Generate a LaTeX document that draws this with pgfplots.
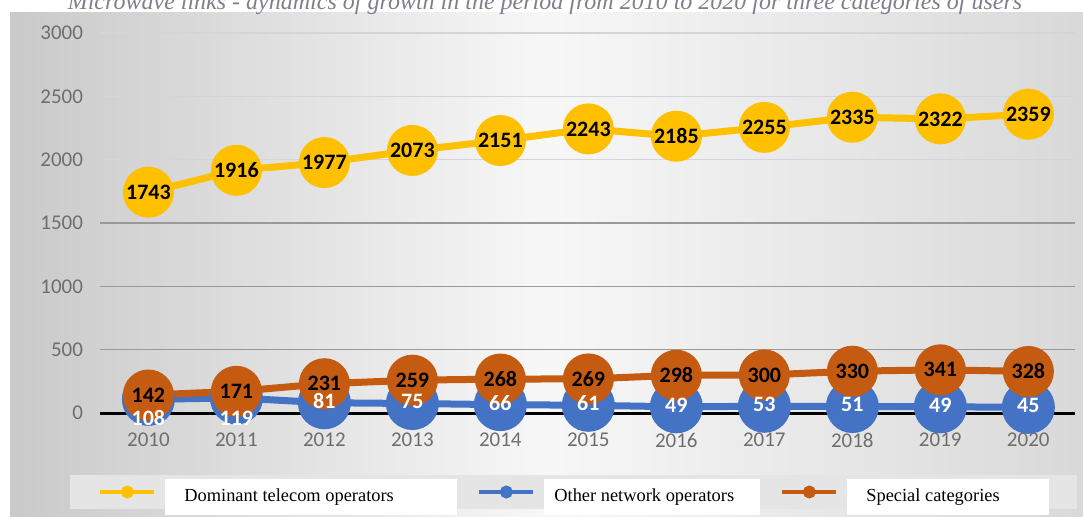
\documentclass[border=0pt]{standalone}
\usepackage{pgfplots}
\pgfplotsset{compat=1.18}
\usepackage{fontspec}
\setmainfont{Carlito}
\newfontfamily\tnr{Liberation Serif}
\definecolor{cyel}{HTML}{FFC000}
\definecolor{cblu}{HTML}{4472C4}
\definecolor{cora}{HTML}{C55A11}
\definecolor{tickgray}{HTML}{6E6E6E}
\definecolor{titlegray}{HTML}{7F7F8C}

% white legend box: width, indent, text
\newcommand{\lbox}[3]{{\setlength{\fboxsep}{0pt}\colorbox{white}{\parbox[c][18pt][c]{#1}{\hspace*{#2}\tnr\fontsize{9.2}{11}\selectfont #3}}}}

\pgfplotstableread{
x y
2010 1743
2011 1916
2012 1977
2013 2073
2014 2151
2015 2243
2016 2185
2017 2255
2018 2335
2019 2322
2020 2359
}\domdata
\pgfplotstableread{
x y dy
2010 108 -9.5
2011 119 -10
2012 81 1
2013 75 1
2014 66 1
2015 61 1
2016 49 1
2017 53 1
2018 51 1
2019 49 1
2020 45 1
}\otherdata
\pgfplotstableread{
x y
2010 142
2011 171
2012 231
2013 259
2014 268
2015 269
2016 298
2017 300
2018 330
2019 341
2020 328
}\specdata

\begin{document}
\begin{tikzpicture}
\useasboundingbox (0,0) rectangle (541.5pt,258pt);
\shade[left color=gray!42, right color=gray!30, middle color=gray!6] (5pt,0) rectangle (541.5pt,252pt);
\node[anchor=base, text=titlegray, inner sep=0pt] at (272.5pt,253.5pt)
  {\tnr\itshape\fontsize{12}{14}\selectfont Microwave links - dynamics of growth in the period from 2010 to 2020 for three categories of users};
\begin{axis}[
  at={(50pt,51.5pt)}, anchor=south west,
  scale only axis, width=487.5pt, height=190pt,
  xmin=2009.45, xmax=2020.53, ymin=0, ymax=3000,
  clip=false,
  axis line style={draw=none}, major tick length=0pt,
  xtick={2010,...,2020},
  ytick={0,2000,2500,3000},
  extra y ticks={500,1000,1500},
  extra y tick style={grid=major, major grid style={draw=gray!80, line width=0.7pt}},
  ymajorgrids,
  major grid style={draw=blue!12!gray!30, line width=0.8pt},
  tick label style={font=\fontsize{10.5}{12}\selectfont, text=tickgray},
  /pgf/number format/1000 sep={},
  /pgf/number format/assume math mode=true,
  yticklabel style={xshift=-5pt},
  xticklabel style={yshift=-6.5pt},
  legend columns=3,
  legend cell align=left,
  legend style={at={(-0.0308,-0.2079)}, anchor=west, fill=gray!20, draw=none,
    inner xsep=14pt, inner ysep=2pt, nodes={inner sep=0pt},
    /tikz/every odd column/.append style={column sep=4.5pt},
    /tikz/every even column/.append style={column sep=10pt}},
  legend image code/.code={\draw[mark repeat=2,mark phase=2,#1,mark size=2.2pt,line width=2pt]
    plot coordinates {(0pt,0pt) (13.5pt,0pt) (27pt,0pt)};},
  every node near coord/.append style={anchor=center, font=\bfseries\fontsize{11}{13}\selectfont},
]
\draw[black, line width=1.5pt] (axis cs:2009.45,0) -- (axis cs:2020.53,0);

\addplot[cyel, line width=3.5pt, mark=*, mark size=11pt, mark options={draw=none, fill=cyel}] table[x=x,y=y] {\domdata};
\addlegendentry{\lbox{146pt}{9.5pt}{Dominant telecom operators}}
\addplot[cblu, line width=3.5pt, mark=*, mark size=11.5pt, mark options={draw=none, fill=cblu}] table[x=x,y=y] {\otherdata};
\addlegendentry{\lbox{108pt}{5pt}{Other network operators}}
\addplot[cora, line width=3.5pt, mark=*, mark size=11pt, mark options={draw=none, fill=cora}] table[x=x,y=y] {\specdata};
\addlegendentry{\lbox{101pt}{9.5pt}{Special categories}}

% value labels on top of all markers
\addplot[draw=none, mark=none, forget plot, nodes near coords, point meta=explicit symbolic,
  every node near coord/.append style={text=black}] table[x=x,y=y,meta=y] {\domdata};
\addplot[draw=none, mark=none, forget plot, nodes near coords, point meta=explicit symbolic,
  every node near coord/.append style={text=black}] table[x=x,y=y,meta=y] {\specdata};
\addplot[draw=none, mark=none, forget plot, nodes near coords, point meta=explicit symbolic,
  visualization depends on={\thisrow{dy} \as \dy},
  every node near coord/.append style={text=white, yshift=\dy pt}] table[x=x,y=y,meta=y] {\otherdata};
\end{axis}
\end{tikzpicture}
\end{document}
